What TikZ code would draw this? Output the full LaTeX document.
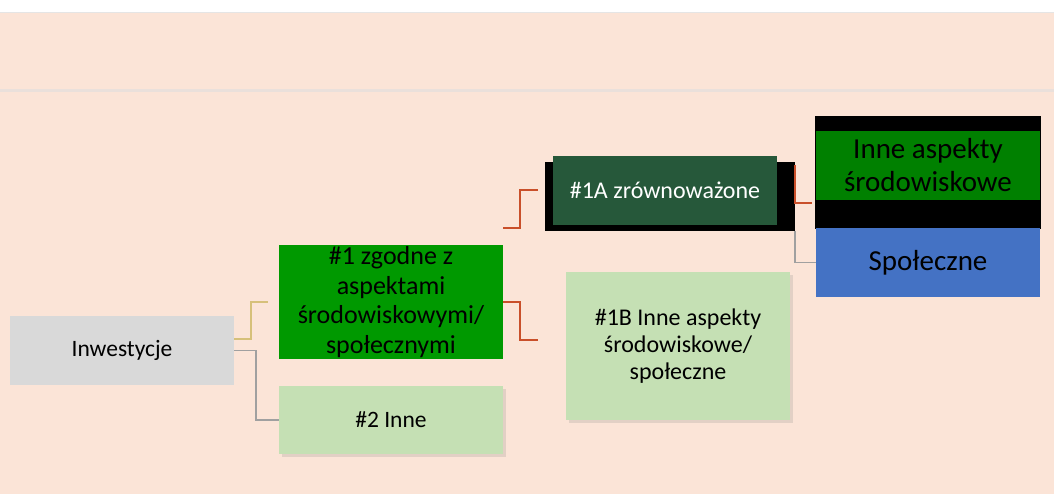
\documentclass[tikz,border=0pt]{standalone}
\usepackage{fontspec}
\setmainfont{Carlito}
\definecolor{peach}{RGB}{251,228,215}
\definecolor{rulegrey}{RGB}{229,229,229}
\definecolor{bandgrey}{RGB}{234,224,219}
\definecolor{boxgrey}{RGB}{217,217,217}
\definecolor{brightgreen}{RGB}{0,153,0}
\definecolor{palegreen}{RGB}{197,224,180}
\definecolor{forest}{RGB}{38,88,58}
\definecolor{leafgreen}{RGB}{0,128,0}
\definecolor{steelblue}{RGB}{68,114,196}
\definecolor{tanline}{RGB}{214,192,122}
\definecolor{rustline}{RGB}{201,79,42}
\definecolor{linegrey}{RGB}{160,160,160}
\usetikzlibrary{calc, positioning, shadows}
\tikzset{
  treebox/.style={draw=none, minimum width=224pt, minimum height=69pt,
    inner sep=0pt, align=center, text=black},
  backbox/.style={draw=none, fill=black, inner sep=0pt},
  softshadow/.style={drop shadow={opacity=0.2, shadow xshift=3pt, shadow yshift=-3pt}},
  linkline/.style={line width=2pt},
}

\begin{document}
\begin{tikzpicture}[x=1pt, y=-1pt]
  \useasboundingbox (0,0) rectangle (1054,494);
  % page and bands
  \fill[white] (-4,-4) rectangle (1058,13);
  \fill[peach] (-4,13) rectangle (1058,500);
  \draw[rulegrey, line width=1.5pt] (-4,12.5) -- (1058,12.5);
  \draw[bandgrey, line width=2.5pt] (-4,90.5) -- (1058,90.5);

  % level 0
  \node[treebox, fill=boxgrey, font=\fontsize{23.5}{28}\selectfont] (inw) at (122,350.5) {Inwestycje};

  % level 1
  \node[treebox, fill=brightgreen, minimum height=114pt,
    font=\fontsize{26}{29.5}\selectfont] (b1) at (391,302)
    {\#1 zgodne z\\aspektami\\środowiskowymi/\\społecznymi};
  \node[treebox, fill=palegreen, minimum height=68pt, softshadow,
    font=\fontsize{23.5}{28}\selectfont] (b2) at (391,420) {\#2 Inne};

  % level 2
  \node[backbox, minimum width=250pt, minimum height=69pt] (b1aback) at (670,196.5) {};
  \node[treebox, fill=forest, text=white, font=\fontsize{24}{28}\selectfont] (b1a) at (665,190.5)
    {\#1A zrównoważone};
  \node[treebox, fill=palegreen, minimum height=148pt, softshadow,
    font=\fontsize{24}{27}\selectfont] (b1b) at (678,346)
    {\#1B Inne aspekty\\środowiskowe/\\społeczne};

  % level 3
  \node[backbox, minimum width=226pt, minimum height=113pt] (inneback) at (928,172.5) {};
  \node[treebox, fill=leafgreen, font=\fontsize{29}{33}\selectfont] (inne) at (928,165.5)
    {Inne aspekty\\środowiskowe};
  \node[treebox, fill=steelblue, font=\fontsize{29}{33}\selectfont] (spol) at (928,262.5) {Społeczne};

  % connectors
  \draw[tanline, linkline] ([yshift=11.5pt]inw.east) -- ++(17,0) |- ([xshift=-11pt]b1.west);
  \draw[linegrey, line width=1.5pt] (inw.east) -- ++(22,0) |- (b2.west);
  \draw[rustline, linkline] ([yshift=17pt]b1.north east) -- ++(17,0) |- ([xshift=-15pt]b1a.west);
  \draw[rustline, linkline] (b1.east) -- ++(17,0) |- ([xshift=-28pt, yshift=6pt]b1b.west);
  \draw[rustline, linkline] ([yshift=31.5pt]b1aback.east) |- ([xshift=-3pt, yshift=-30.5pt]inneback.west);
  \draw[linegrey, line width=1.5pt] (b1aback.south east) |- (spol.west);
\end{tikzpicture}
\end{document}
